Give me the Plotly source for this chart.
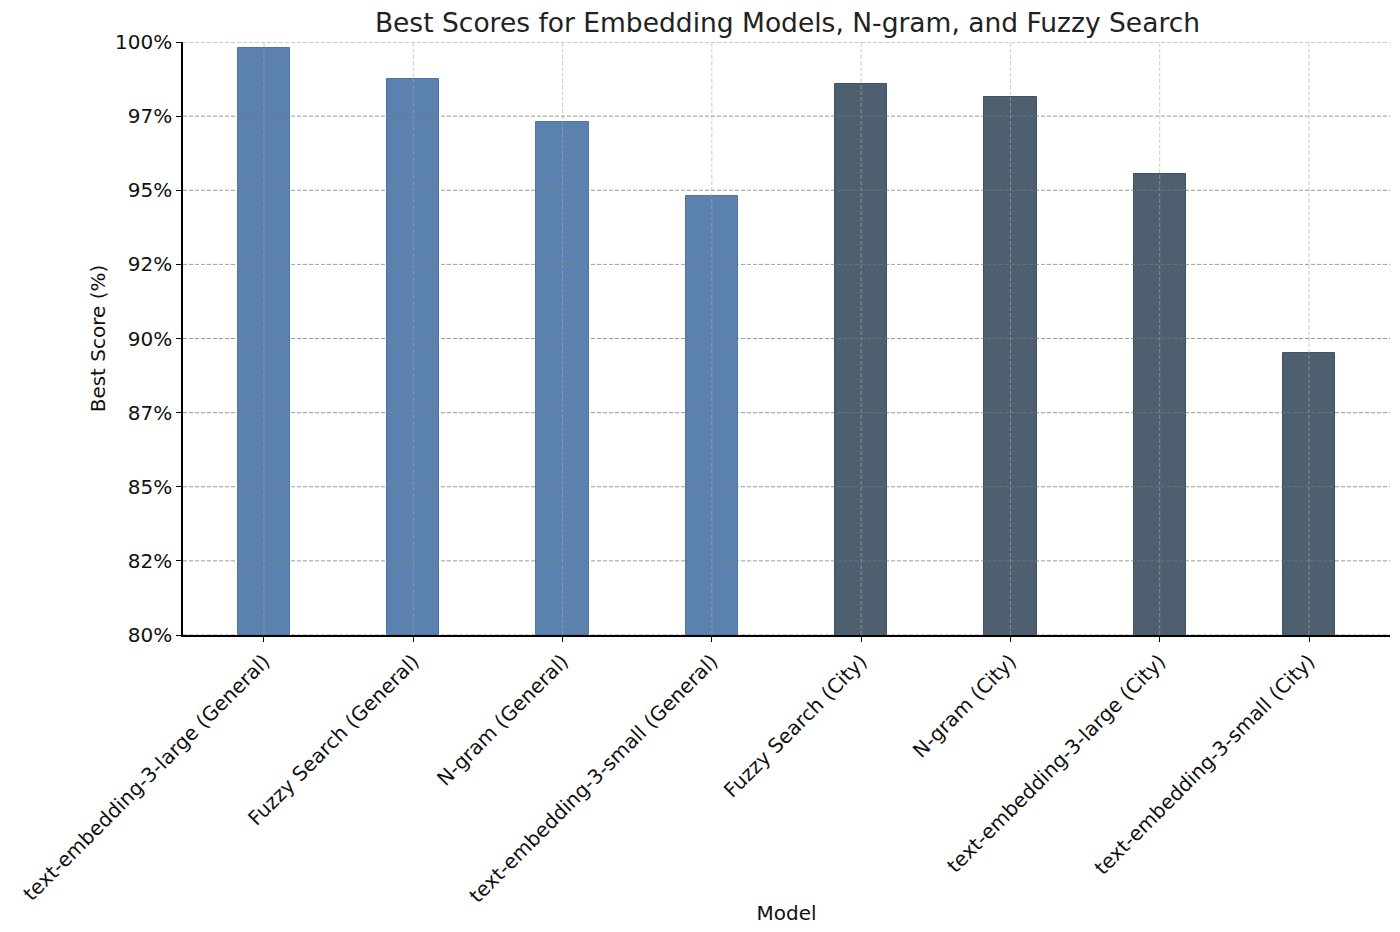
import plotly.graph_objects as go

models = [
    "text-embedding-3-large (General)",
    "Fuzzy Search (General)",
    "N-gram (General)",
    "text-embedding-3-small (General)",
    "Fuzzy Search (City)",
    "N-gram (City)",
    "text-embedding-3-large (City)",
    "text-embedding-3-small (City)",
]
scores = [99.8, 98.75, 97.3, 94.8, 98.6, 98.15, 95.55, 89.5]
groups = ["General", "General", "General", "General", "City", "City", "City", "City"]
group_colors = {"General": "#5b82ae", "City": "#4e5f6f"}
group_edges = {"General": "#4d75a5", "City": "#3f5366"}

ytick_vals = [80, 82.5, 85, 87.5, 90, 92.5, 95, 97.5, 100]
ytick_text = ["80%", "82%", "85%", "87%", "90%", "92%", "95%", "97%", "100%"]

x_pos = list(range(len(models)))

fig = go.Figure()
fig.add_trace(go.Bar(
    x=x_pos,
    y=[s - 80 for s in scores],
    base=80,
    width=0.35,
    marker=dict(
        color=[group_colors[g] for g in groups],
        line=dict(color=[group_edges[g] for g in groups], width=1),
    ),
    showlegend=False,
    hovertext=models,
))

# grid drawn above bars (as in reference)
shapes = []
for v in ytick_vals:
    shapes.append(dict(type="line", xref="paper", yref="y", x0=0, x1=1, y0=v, y1=v,
                       line=dict(color="rgba(120,120,120,0.75)", width=1, dash="4px,2px"),
                       layer="above"))
for xp in x_pos:
    shapes.append(dict(type="line", xref="x", yref="paper", x0=xp, x1=xp, y0=0, y1=1,
                       line=dict(color="rgba(170,170,170,0.6)", width=1, dash="4px,2px"),
                       layer="above"))

fig.update_layout(
    width=1400, height=932,
    margin=dict(l=183, r=10, t=42, b=297),
    paper_bgcolor="white", plot_bgcolor="white",
    font=dict(family="DejaVu Sans", color="#111111", size=20),
    title=dict(text="Best Scores for Embedding Models, N-gram, and Fuzzy Search",
               x=0.5625, xanchor="center", y=0.976, yanchor="middle",
               font=dict(size=26.5, color="#222222")),
    shapes=shapes,
    bargap=0,
)
fig.update_xaxes(
    range=[-0.5425, 7.5425],
    tickmode="array", tickvals=x_pos, ticktext=models,
    tickangle=-45,
    ticks="outside", ticklen=5, tickcolor="black",
    showline=True, linecolor="black", linewidth=1.5,
    showgrid=False, zeroline=False, automargin=False,
    title=dict(text="Model", standoff=0, font=dict(size=20)),
    tickfont=dict(size=20),
)
fig.update_yaxes(
    range=[80, 100],
    tickmode="array", tickvals=ytick_vals, ticktext=ytick_text,
    ticks="outside", ticklen=5, tickcolor="black",
    showline=True, linecolor="black", linewidth=1.5,
    showgrid=False, zeroline=False, automargin=False,
    title=dict(text="Best Score (%)", standoff=4, font=dict(size=20)),
    tickfont=dict(size=20),
)

fig.write_html("out.html")
